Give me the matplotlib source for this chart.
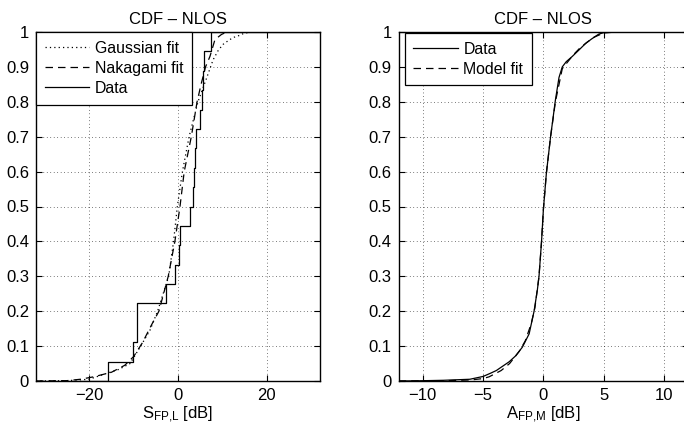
import numpy as np
import matplotlib
matplotlib.use("Agg")
import matplotlib.pyplot as plt

plt.rcParams['font.family'] = ['Liberation Sans', 'DejaVu Sans']
plt.rcParams['font.size'] = 12
plt.rcParams['mathtext.fontset'] = 'custom'
plt.rcParams['mathtext.rm'] = 'Liberation Sans'
plt.rcParams['mathtext.it'] = 'Liberation Sans'

# left panel: 18 measured samples (step CDF) and two fitted CDFs
s_samples = [-15.8, -10.1, -9.2, -9.2, -2.8, -0.7, 0.15, 0.5, 2.8, 3.3,
             3.6, 3.8, 4.0, 4.9, 5.3, 5.6, 5.9, 7.4]

gauss_x = [-32, -25, -20, -17, -13.4, -10.8, -8.5, -6.3, -4.6, -2.1, -1.0,
           -0.15, 1.0, 2.5, 4.5, 6.5, 7.9, 9.1, 10.2, 11.3, 12.4, 13.8, 15,
           17, 32]
gauss_f = [0.0, 0.001, 0.005, 0.018, 0.033, 0.05, 0.098, 0.146, 0.2, 0.3,
           0.4, 0.5, 0.6, 0.7, 0.8, 0.87, 0.92, 0.948, 0.965, 0.975, 0.984,
           0.99, 0.997, 1.0, 1.0]

naka_x = [-32, -25, -22, -19, -15, -12, -10, -8, -6, -4.3, -2.2, -0.7, 0.45,
          1.4, 3.0, 4.3, 5.2, 6.2, 7.2, 8.3, 9.1, 9.8, 11, 32]
naka_f = [0.0, 0.001, 0.005, 0.012, 0.025, 0.045, 0.07, 0.11, 0.16, 0.2,
          0.3, 0.4, 0.5, 0.6, 0.7, 0.8, 0.85, 0.9, 0.93, 0.977, 0.986, 0.993,
          1.0, 1.0]

# right panel: empirical CDF and model fit
a_x = [-12, -10.5, -8.3, -6.1, -5.0, -4.4, -3.9, -2.84, -2.3, -1.74, -1.18,
       -0.77, -0.5, -0.36, -0.15, 0.0, 0.25, 0.6, 1.0, 1.3, 1.57, 1.9, 2.4,
       3.0, 3.5, 4.0, 4.6, 5.2, 12]
a_f = [0.0, 0.0005, 0.002, 0.005, 0.013, 0.022, 0.03, 0.055, 0.072, 0.097,
       0.135, 0.2, 0.26, 0.3, 0.4, 0.49, 0.595, 0.70, 0.805, 0.87, 0.90,
       0.915, 0.93, 0.95, 0.967, 0.98, 0.994, 1.0, 1.0]

fit_x = [-12, -8, -6, -5, -4.5, -3.5, -2.8, -2.0, -1.5, -1.0, -0.7, -0.36,
         -0.15, 0.0, 0.25, 0.6, 1.0, 1.57, 2.5, 3.0, 3.6, 4.2, 5.0, 6, 12]
fit_f = [0.0, 0.001, 0.003, 0.007, 0.012, 0.03, 0.05, 0.085, 0.115, 0.165,
         0.21, 0.3, 0.4, 0.49, 0.595, 0.70, 0.80, 0.895, 0.935, 0.953, 0.97,
         0.985, 0.997, 1.0, 1.0]

yticks = [0, 0.1, 0.2, 0.3, 0.4, 0.5, 0.6, 0.7, 0.8, 0.9, 1]
ytick_labels = ['0', '0.1', '0.2', '0.3', '0.4', '0.5', '0.6', '0.7', '0.8',
                '0.9', '1']

W, H = 684, 429
fig = plt.figure(figsize=(W / 100, H / 100), dpi=100)

ax1 = fig.add_axes([36 / W, 1 - 381 / H, (320 - 36) / W, (381 - 32) / H])
ax2 = fig.add_axes([398.7 / W, 1 - 381 / H, (688 - 398.7) / W, (381 - 32) / H])

dotted = (0, (1, 2.5))
dashed = (0, (6, 4))

# step CDF of the samples
xs = np.sort(np.array(s_samples))
n = len(xs)
step_x = np.concatenate([[-32], xs, [32]])
step_f = np.concatenate([[0], np.arange(1, n + 1) / n, [1]])

ax1.plot(gauss_x, gauss_f, color='k', lw=0.9, linestyle=dotted, label='Gaussian fit')
ax1.plot(naka_x, naka_f, color='k', lw=0.9, linestyle=dashed, label='Nakagami fit')
ax1.step(step_x, step_f, where='post', color='k', lw=0.9, label='Data')
ax1.set_xlim(-32, 32)
ax1.set_xticks([-20, 0, 20])
ax1.set_xlabel(r'$\mathregular{S_{FP{,}L}}$ [dB]', labelpad=1)

ax2.plot(a_x, a_f, color='k', lw=0.9, label='Data')
ax2.plot(fit_x, fit_f, color='k', lw=0.9, linestyle=dashed, label='Model fit')
ax2.set_xlim(-12, 12)
ax2.set_xticks([-10, -5, 0, 5, 10])
ax2.set_xlabel(r'$\mathregular{A_{FP{,}M}}$ [dB]', labelpad=1)

for ax in (ax1, ax2):
    ax.set_ylim(0, 1)
    ax.set_yticks(yticks)
    ax.set_yticklabels(ytick_labels)
    ax.set_title('CDF – NLOS', fontsize=12, pad=6)
    ax.grid(True, color='k', lw=0.5, linestyle=(0, (1, 4)))
    ax.tick_params(direction='in', length=4, width=0.8, top=True, right=True,
                   pad=5)
    for sp in ax.spines.values():
        sp.set_linewidth(1.0)

leg_kw = dict(loc='upper left', fancybox=False, framealpha=1,
              edgecolor='k', handlelength=2.8, handletextpad=0.35,
              labelspacing=0.32, borderpad=0.55, borderaxespad=0,
              fontsize=11.4)
l1 = ax1.legend(bbox_to_anchor=(36 / W, 1 - 32 / H),
                bbox_transform=fig.transFigure, **leg_kw)
l2 = ax2.legend(bbox_to_anchor=(404.7 / W, 1 - 33 / H),
                bbox_transform=fig.transFigure, **leg_kw)
for l in (l1, l2):
    l.get_frame().set_linewidth(0.9)
    l.set_zorder(5)

fig.savefig('out.png', dpi=100)
